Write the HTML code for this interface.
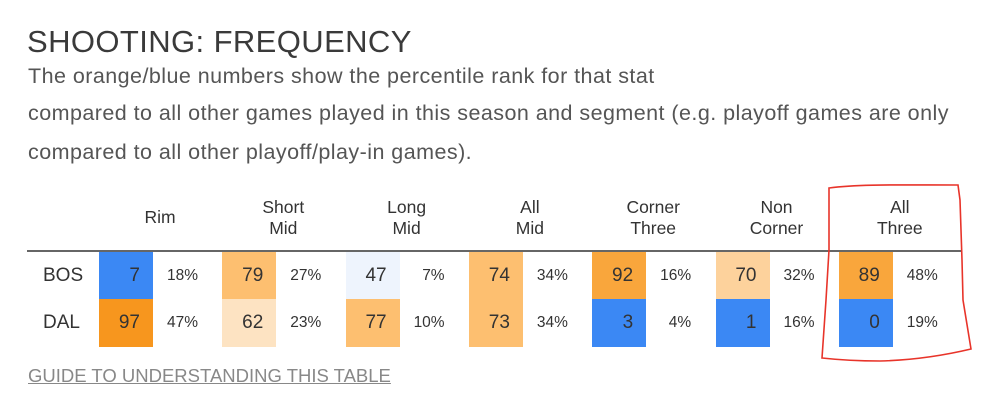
<!DOCTYPE html>
<html><head><meta charset="utf-8"><style>
body{margin:0;width:1000px;height:406px;background:#fff;font-family:"Liberation Sans",sans-serif;position:relative;overflow:hidden}
.t{position:absolute;white-space:nowrap}
#title{left:27px;top:24px;font-size:31px;color:#3a3a3a;letter-spacing:0.4px}
.sub{left:28px;font-size:21.5px;color:#555;letter-spacing:0.45px}
.hdr{position:absolute;top:197px;width:110px;text-align:center;font-size:17.5px;line-height:21px;color:#333}
.box{position:absolute;width:54px;height:48px;text-align:right;box-sizing:border-box;padding-right:13px;line-height:48px;font-size:19px;color:#333}
.pct{position:absolute;width:60px;text-align:right;line-height:48px;font-size:15.5px;color:#333}
.team{position:absolute;left:43px;line-height:48px;font-size:19px;color:#333}
</style></head><body>
<div class="t" id="title">SHOOTING: FREQUENCY</div>
<div class="t sub" style="top:64px">The orange/blue numbers show the percentile rank for that stat</div>
<div class="t sub" style="top:101px">compared to all other games played in this season and segment (e.g. playoff games are only</div>
<div class="t sub" style="top:140px">compared to all other playoff/play-in games).</div>
<div style="position:absolute;left:27px;top:250px;width:935px;height:2px;background:#666"></div>
<div id="tbl"></div>
<div class="t" style="left:28px;top:365px;font-size:18.5px;color:#888;text-decoration:underline">GUIDE TO UNDERSTANDING THIS TABLE</div>
<svg style="position:absolute;left:0;top:0" width="1000" height="406">
<path d="M829,188 C860,184 900,185 958,185 L960,200 L962,260 L963,300 L971,349 C950,354 920,360 880,361 C860,361 840,360 822,358 L826,300 L829,250 Z" fill="none" stroke="#e8342a" stroke-width="1.6"/>
</svg>
<script>
const categories=[["Rim"],["Short","Mid"],["Long","Mid"],["All","Mid"],["Corner","Three"],["Non","Corner"],["All","Three"]];
const teams=["BOS","DAL"];
const bosRank=[7,79,47,74,92,70,89];
const bosPct=["18%","27%","7%","34%","16%","32%","48%"];
const dalRank=[97,62,77,73,3,1,0];
const dalPct=["47%","23%","10%","34%","4%","16%","19%"];
function color(v){
 if(v<=10)return"#3b88f4";
 if(v<30)return"#8fb9f8";
 if(v<=50)return"#eef4fd";
 if(v<=65)return"#fde3c2";
 if(v<=72)return"#fdd29c";
 if(v<=80)return"#fdbf70";
 if(v<=93)return"#f9a63c";
 return"#f7961e";
}
const tbl=document.getElementById('tbl');
const x0=99,step=123.3,rowY=[252,299];
categories.forEach((c,i)=>{
 const h=document.createElement('div');h.className='hdr';
 
 
 h.style.left=(x0+i*step+6)+'px';
 if(c.length===1)h.style.top='207px';
 h.innerHTML=c.join('<br>');tbl.appendChild(h);
});
[bosRank,dalRank].forEach((ranks,r)=>{
 const pcts=r?dalPct:bosPct;
 const t=document.createElement('div');t.className='team';
 
 
 t.style.top=rowY[r]+'px';t.textContent=teams[r];tbl.appendChild(t);
 ranks.forEach((v,i)=>{
  const b=document.createElement('div');b.className='box';
  
  
  b.style.left=(x0+i*step)+'px';b.style.top=rowY[r]+'px';b.style.background=color(v);
  b.textContent=v;tbl.appendChild(b);
  const p=document.createElement('div');p.className='pct';
  
  
  p.style.left=(x0+i*step+39)+'px';p.style.top=rowY[r]+'px';
  p.textContent=pcts[i];tbl.appendChild(p);
 });
});
</script>
</body></html>
